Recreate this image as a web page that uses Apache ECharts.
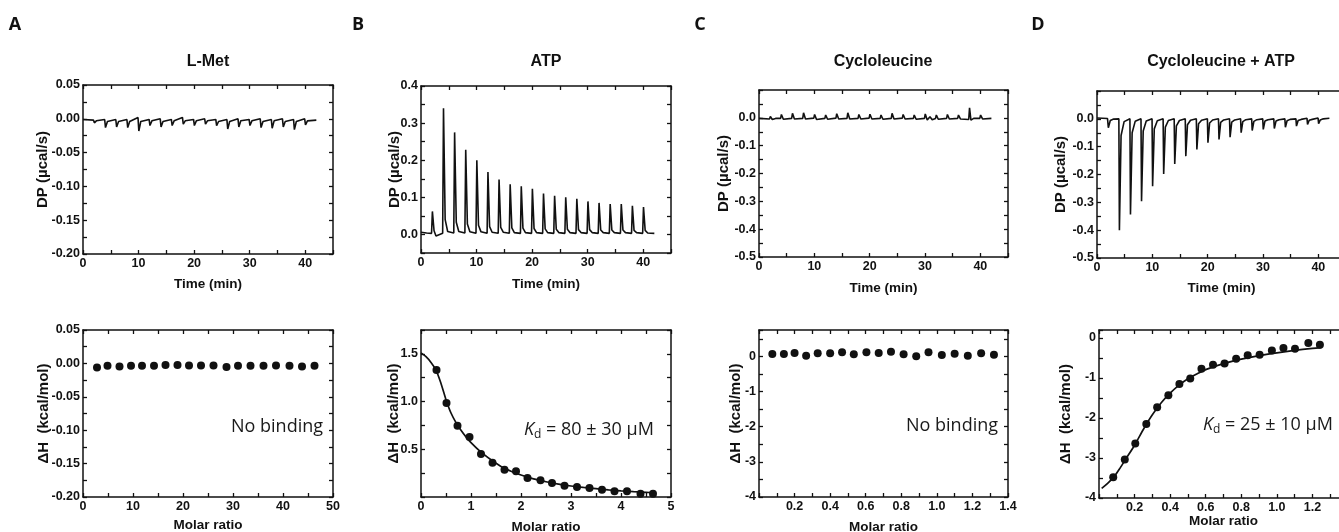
<!DOCTYPE html>
<html>
<head>
<meta charset="utf-8">
<title>ITC panels</title>
<script src="https://cdn.jsdelivr.net/npm/echarts@6/dist/echarts.min.js"></script>
<style>
  html, body { margin: 0; padding: 0; background: #fff; }
  #chart { width: 1339px; height: 532px; }
</style>
</head>
<body>
<div id="chart"></div>
<script>
const INK = '#111';
const AXIS_FONT = '"Liberation Sans", Arial, sans-serif';
const NOTE_FONT = '"Open Sans", "Noto Sans", sans-serif';

// ---- raw thermograms, [time (min), DP (µcal/s)] ----
const lmetTrace = [
  [0,-0.001],[1.9,-0.002],[2.05,-0.006],[2.4,-0.003],[3.9,-0.001],[4.05,-0.013],[4.4,-0.004],
  [5.9,-0.001],[6.05,-0.012],[6.4,-0.004],[7.9,-0.001],[8.05,-0.013],[8.4,-0.004],
  [9.9,0.002],[10.05,-0.018],[10.4,-0.004],[11.9,-0.001],[12.05,-0.01],[12.4,-0.003],
  [13.9,0.0],[14.05,-0.012],[14.4,-0.004],[15.9,-0.001],[16.05,-0.01],[16.4,-0.003],
  [17.9,0.002],[18.05,-0.008],[18.4,-0.003],[19.9,-0.001],[20.05,-0.01],[20.4,-0.003],
  [21.9,0.0],[22.05,-0.008],[22.4,-0.003],[23.9,-0.001],[24.05,-0.01],[24.4,-0.004],
  [25.9,-0.001],[26.05,-0.015],[26.4,-0.004],[27.9,0.0],[28.05,-0.012],[28.4,-0.003],
  [29.9,-0.001],[30.05,-0.01],[30.4,-0.003],[31.9,0.0],[32.05,-0.013],[32.4,-0.004],
  [33.9,-0.001],[34.05,-0.014],[34.4,-0.003],[35.9,0.0],[36.05,-0.012],[36.4,-0.004],
  [37.9,-0.001],[38.05,-0.016],[38.4,-0.004],[39.9,0.0],[40.05,-0.009],[40.4,-0.003],[42,-0.002]
];

const atpTrace = [
  [0,0.006],[1.0,0.004],[1.9,0.003],[2.05,0.062],[2.35,0.01],[2.7,-0.004],[3.9,0.003],
  [4.05,0.34],[4.35,0.04],[4.8,0.008],[5.9,0.004],
  [6.05,0.275],[6.35,0.033],[6.8,0.008],[7.9,0.004],
  [8.05,0.228],[8.35,0.028],[8.8,0.007],[9.9,0.003],
  [10.05,0.2],[10.35,0.025],[10.8,0.007],[11.9,0.003],
  [12.05,0.168],[12.35,0.021],[12.8,0.006],[13.9,0.003],
  [14.05,0.148],[14.35,0.019],[14.8,0.006],[15.9,0.003],
  [16.05,0.135],[16.35,0.018],[16.8,0.005],[17.9,0.003],
  [18.05,0.13],[18.35,0.017],[18.8,0.005],[19.9,0.003],
  [20.05,0.123],[20.35,0.016],[20.8,0.005],[21.9,0.003],
  [22.05,0.11],[22.35,0.015],[22.8,0.005],[23.9,0.003],
  [24.05,0.104],[24.35,0.014],[24.8,0.005],[25.9,0.003],
  [26.05,0.1],[26.35,0.014],[26.8,0.005],[27.9,0.003],
  [28.05,0.096],[28.35,0.013],[28.8,0.005],[29.9,0.003],
  [30.05,0.089],[30.35,0.013],[30.8,0.005],[31.9,0.003],
  [32.05,0.085],[32.35,0.012],[32.8,0.005],[33.9,0.003],
  [34.05,0.082],[34.35,0.012],[34.8,0.005],[35.9,0.003],
  [36.05,0.082],[36.35,0.012],[36.8,0.005],[37.9,0.003],
  [38.05,0.077],[38.35,0.011],[38.8,0.005],[39.9,0.003],
  [40.05,0.074],[40.35,0.011],[40.8,0.004],[42,0.003]
];

const cycloTrace = [
  [0,-0.002],[1.9,-0.004],[2.05,0.005],[2.4,-0.006],[3.0,-0.002],[3.9,-0.002],[4.05,0.012],[4.4,-0.005],
  [5.9,-0.002],[6.05,0.016],[6.4,-0.004],[7.9,-0.002],[8.05,0.018],[8.4,-0.004],
  [9.9,-0.001],[10.05,0.012],[10.4,-0.006],[11.9,-0.002],[12.05,0.01],[12.4,-0.005],
  [13.9,-0.001],[14.05,0.015],[14.4,-0.004],[15.9,-0.002],[16.05,0.018],[16.4,-0.004],
  [17.9,-0.002],[18.05,0.012],[18.4,-0.004],[19.9,-0.001],[20.05,0.013],[20.4,-0.004],
  [21.9,-0.002],[22.05,0.01],[22.4,-0.005],[23.9,-0.002],[24.05,0.016],[24.4,-0.004],
  [25.9,-0.001],[26.05,0.012],[26.4,-0.004],[27.9,-0.002],[28.05,0.01],[28.4,-0.005],
  [29.9,-0.002],[30.05,0.014],[30.4,-0.008],[30.9,0.004],[31.3,-0.007],[31.9,-0.002],
  [32.05,0.01],[32.4,-0.005],[33.9,-0.002],[34.05,0.012],[34.4,-0.004],
  [35.9,-0.002],[36.05,0.01],[36.4,-0.004],[37.9,-0.006],[38.05,0.036],[38.3,-0.008],[38.8,-0.002],
  [39.9,-0.002],[40.05,0.01],[40.4,-0.004],[42,-0.002]
];

const cycloAtpTrace = [
  [0,0.003],[1.0,0.002],[1.9,0.001],[2.05,-0.032],[2.4,-0.006],[3.0,-0.001],[3.95,0.0],
  [4.05,-0.4],[4.35,-0.06],[4.9,-0.01],[5.95,0.0],
  [6.05,-0.344],[6.35,-0.05],[6.9,-0.009],[7.95,0.0],
  [8.05,-0.296],[8.35,-0.044],[8.9,-0.008],[9.95,0.0],
  [10.05,-0.242],[10.35,-0.036],[10.9,-0.007],[11.95,0.0],
  [12.05,-0.198],[12.35,-0.03],[12.9,-0.006],[13.95,0.0],
  [14.05,-0.162],[14.35,-0.025],[14.9,-0.006],[15.95,0.0],
  [16.05,-0.134],[16.35,-0.021],[16.9,-0.005],[17.95,0.0],
  [18.05,-0.11],[18.35,-0.018],[18.9,-0.005],[19.95,0.0],
  [20.05,-0.086],[20.35,-0.015],[20.9,-0.004],[21.95,0.0],
  [22.05,-0.074],[22.35,-0.013],[22.9,-0.004],[23.95,0.0],
  [24.05,-0.066],[24.35,-0.012],[24.9,-0.004],[25.95,0.0],
  [26.05,-0.05],[26.35,-0.01],[26.9,-0.003],[27.95,0.0],
  [28.05,-0.042],[28.35,-0.009],[28.9,-0.003],[29.95,0.0],
  [30.05,-0.038],[30.35,-0.008],[30.9,-0.003],[31.95,0.0],
  [32.05,-0.035],[32.35,-0.008],[32.9,-0.003],[33.95,0.0],
  [34.05,-0.03],[34.35,-0.007],[34.9,-0.002],[35.95,0.0],
  [36.05,-0.026],[36.35,-0.006],[36.9,-0.002],[37.95,0.002],
  [38.05,-0.02],[38.35,-0.005],[38.9,-0.002],[39.95,0.003],
  [40.05,-0.017],[40.35,-0.004],[40.9,0.0],[42,0.002]
];

// ---- integrated heats ----
const lmetRatio = [2.8,4.9,7.3,9.6,11.8,14.2,16.5,18.9,21.2,23.6,26.1,28.7,31.0,33.5,36.1,38.6,41.3,43.8,46.3];
const lmetDH = [-0.006,-0.0035,-0.0045,-0.0035,-0.0035,-0.0035,-0.0025,-0.0025,-0.003,-0.003,-0.003,-0.0055,-0.0035,-0.0035,-0.0035,-0.003,-0.0035,-0.0045,-0.0035];

const atpRatio = [0.31,0.51,0.73,0.97,1.2,1.43,1.67,1.9,2.13,2.39,2.62,2.87,3.12,3.37,3.62,3.87,4.12,4.39,4.64];
const atpDH = [1.33,0.986,0.747,0.63,0.45,0.36,0.285,0.27,0.2,0.175,0.146,0.118,0.104,0.094,0.076,0.059,0.059,0.035,0.035];
const atpFit = [
  [0,1.51],[0.1,1.47],[0.2,1.41],[0.3,1.33],[0.4,1.19],[0.5,1.02],[0.6,0.88],[0.7,0.78],[0.8,0.7],
  [0.9,0.63],[1.0,0.57],[1.2,0.47],[1.4,0.39],[1.6,0.32],[1.8,0.27],[2.0,0.23],[2.25,0.19],[2.5,0.16],
  [2.75,0.135],[3.0,0.115],[3.25,0.1],[3.5,0.087],[3.75,0.075],[4.0,0.065],[4.25,0.056],[4.5,0.049],[4.65,0.045]
];

const cycloRatio = [0.075,0.14,0.2,0.265,0.33,0.4,0.467,0.533,0.604,0.673,0.742,0.813,0.884,0.953,1.028,1.1,1.174,1.249,1.321];
const cycloDH = [0.067,0.067,0.095,0.02,0.086,0.086,0.114,0.057,0.114,0.095,0.133,0.057,0.0,0.114,0.038,0.076,0.02,0.086,0.048];

const cycloAtpRatio = [0.08,0.145,0.204,0.266,0.327,0.39,0.452,0.513,0.576,0.641,0.706,0.771,0.836,0.903,0.972,1.037,1.102,1.177,1.242];
const cycloAtpDH = [-3.48,-3.04,-2.64,-2.15,-1.73,-1.43,-1.15,-1.01,-0.77,-0.67,-0.64,-0.52,-0.43,-0.42,-0.31,-0.25,-0.27,-0.125,-0.17];
const cycloAtpFit = [
  [0.015,-3.76],[0.05,-3.63],[0.086,-3.46],[0.12,-3.24],[0.15,-3.03],[0.2,-2.68],[0.25,-2.28],[0.3,-1.92],
  [0.35,-1.62],[0.4,-1.38],[0.45,-1.18],[0.5,-1.02],[0.55,-0.9],[0.6,-0.79],[0.7,-0.64],[0.8,-0.53],
  [0.9,-0.44],[1.0,-0.37],[1.1,-0.31],[1.2,-0.26],[1.25,-0.24]
];

const titles = ['L-Met', 'ATP', 'Cycloleucine', 'Cycloleucine + ATP'];
const letters = ['A', 'B', 'C', 'D'];

const pairs = (xs, ys) => xs.map((x, i) => [x, ys[i]]);

const grid = [];
const xAxis = [];
const yAxis = [];
const series = [];

function tickLabel(major, decimals, hide) {
  return (v) => {
    const k = v / major;
    if (Math.abs(k - Math.round(k)) > 1e-6) return '';
    if (hide !== undefined && Math.abs(v - hide) < 1e-9) return '';
    return v.toFixed(decimals);
  };
}

function addPanel(p) {
  const gi = grid.length;
  grid.push({ left: p.box[0], top: p.box[1], width: p.box[2], height: p.box[3], outerBoundsMode: 'none' });
  const line = { show: true, onZero: false, lineStyle: { color: INK, width: 1.5 } };
  const tick = { show: true, inside: true, length: 4, lineStyle: { color: INK, width: 1.3 } };
  const base = (a) => ({
    gridIndex: gi, type: 'value', min: a.min, max: a.max, interval: a.step,
    axisLine: line, axisTick: tick, splitLine: { show: false }, minorTick: { show: false }
  });
  const label = (a) => ({
    color: INK, fontFamily: AXIS_FONT, fontWeight: 'bold', fontSize: 12.5, margin: 3,
    formatter: tickLabel(a.major, a.dec, a.hide)
  });
  const nameStyle = (size) => ({ color: INK, fontFamily: AXIS_FONT, fontWeight: 'bold', fontSize: size });

  xAxis.push({ ...base(p.x), position: 'bottom', axisLabel: label(p.x), nameMoveOverlap: false,
    name: p.x.name, nameLocation: 'middle', nameGap: p.x.gap, nameTextStyle: nameStyle(13.5) });
  xAxis.push({ ...base(p.x), position: 'top', axisLabel: { show: false } });
  yAxis.push({ ...base(p.y), position: 'left', axisLabel: label(p.y), nameMoveOverlap: false,
    name: p.y.name, nameLocation: 'middle', nameGap: p.y.gap, nameTextStyle: nameStyle(15) });
  yAxis.push({ ...base(p.y), position: 'right', axisLabel: { show: false } });
  return { xAxisIndex: xAxis.length - 2, yAxisIndex: yAxis.length - 2 };
}

const timeAxis = (gap) => ({ min: 0, max: 45, step: 5, major: 10, dec: 0, name: 'Time (min)', gap });
const DP = 'DP (µcal/s)';
const DH = 'ΔH  (kcal/mol)';

function trace(idx, data) {
  series.push({ type: 'line', ...idx, data, showSymbol: false, silent: true, animation: false,
    lineStyle: { color: INK, width: 1.6 } });
}
function dots(idx, data) {
  series.push({ type: 'scatter', ...idx, data, symbol: 'circle', symbolSize: 8, silent: true,
    animation: false, itemStyle: { color: INK, opacity: 1 } });
}
function fit(idx, data) {
  series.push({ type: 'line', ...idx, data, showSymbol: false, smooth: 0.3, silent: true,
    animation: false, lineStyle: { color: INK, width: 1.7 } });
}

// A
let idx = addPanel({ box: [83, 85, 250, 169], x: timeAxis(23),
  y: { min: -0.2, max: 0.05, step: 0.025, major: 0.05, dec: 2, name: DP, gap: 33 } });
trace(idx, lmetTrace);
idx = addPanel({ box: [83, 330, 250, 167],
  x: { min: 0, max: 50, step: 5, major: 10, dec: 0, name: 'Molar ratio', gap: 21 },
  y: { min: -0.2, max: 0.05, step: 0.025, major: 0.05, dec: 2, name: DH, gap: 32 } });
dots(idx, pairs(lmetRatio, lmetDH));

// B
idx = addPanel({ box: [421, 86, 250, 167], x: timeAxis(24),
  y: { min: -0.05, max: 0.4, step: 0.05, major: 0.1, dec: 1, name: DP, gap: 19 } });
trace(idx, atpTrace);
idx = addPanel({ box: [421, 330, 250, 167],
  x: { min: 0, max: 5, step: 0.5, major: 1, dec: 0, name: 'Molar ratio', gap: 23 },
  y: { min: 0, max: 1.75, step: 0.25, major: 0.5, dec: 1, hide: 0, name: DH, gap: 20 } });
fit(idx, atpFit);
dots(idx, pairs(atpRatio, atpDH));

// C
idx = addPanel({ box: [759, 90, 249, 167], x: timeAxis(24),
  y: { min: -0.5, max: 0.1, step: 0.05, major: 0.1, dec: 1, hide: 0.1, name: DP, gap: 28 } });
trace(idx, cycloTrace);
idx = addPanel({ box: [759, 330, 249, 167],
  x: { min: 0, max: 1.4, step: 0.1, major: 0.2, dec: 1, hide: 0, name: 'Molar ratio', gap: 23 },
  y: { min: -4, max: 0.75, step: 0.5, major: 1, dec: 0, name: DH, gap: 16 } });
dots(idx, pairs(cycloRatio, cycloDH));

// D (cut off by the right edge in the original)
idx = addPanel({ box: [1097, 91, 249, 167], x: timeAxis(23),
  y: { min: -0.5, max: 0.1, step: 0.05, major: 0.1, dec: 1, hide: 0.1, name: DP, gap: 29 } });
trace(idx, cycloAtpTrace);
idx = addPanel({ box: [1099, 330, 249, 168],
  x: { min: 0, max: 1.4, step: 0.1, major: 0.2, dec: 1, hide: 0, name: 'Molar ratio', gap: 16 },
  y: { min: -4, max: 0.2, step: 0.5, major: 1, dec: 0, name: DH, gap: 26 } });
fit(idx, cycloAtpFit);
dots(idx, pairs(cycloAtpRatio, cycloAtpDH));

// ---- texts ----
const titleX = [208, 546, 883, 1221];
const letterX = [15, 358, 700, 1038];
const graphic = [];
titles.forEach((t, i) => graphic.push({
  type: 'text', x: titleX[i], y: 62, silent: true,
  style: { text: t, fill: INK, fontFamily: AXIS_FONT, fontWeight: 'bold', fontSize: 16, align: 'center', verticalAlign: 'middle' }
}));
letters.forEach((t, i) => graphic.push({
  type: 'text', x: letterX[i], y: 25, silent: true,
  style: { text: t, fill: INK, fontFamily: NOTE_FONT, fontWeight: 'bold', fontSize: 18, align: 'center', verticalAlign: 'middle' }
}));
const noteStyle = { fill: '#1a1a1a', fontFamily: NOTE_FONT, fontSize: 18, verticalAlign: 'middle' };
graphic.push({ type: 'text', x: 323, y: 427, silent: true, style: { ...noteStyle, text: 'No binding', align: 'right' } });
graphic.push({ type: 'text', x: 998, y: 426, silent: true, style: { ...noteStyle, text: 'No binding', align: 'right' } });
const kdRich = {
  k: { fontStyle: 'italic', fontSize: 18, fontFamily: NOTE_FONT, fill: '#1a1a1a' },
  d: { fontSize: 12, fontFamily: NOTE_FONT, fill: '#1a1a1a', padding: [9, 0, 0, 0] },
  t: { fontSize: 18, fontFamily: NOTE_FONT, fill: '#1a1a1a' }
};
graphic.push({ type: 'text', x: 524, y: 430, silent: true,
  style: { ...noteStyle, text: '{k|K}{d|d}{t| = 80 ± 30 µM}', rich: kdRich, align: 'left' } });
graphic.push({ type: 'text', x: 1203, y: 425, silent: true,
  style: { ...noteStyle, text: '{k|K}{d|d}{t| = 25 ± 10 µM}', rich: kdRich, align: 'left' } });

const chart = echarts.init(document.getElementById('chart'), null, { renderer: 'canvas' });
chart.setOption({
  backgroundColor: '#ffffff',
  animation: false,
  grid, xAxis, yAxis, series, graphic
});
window.addEventListener('resize', () => chart.resize());
</script>
</body>
</html>
